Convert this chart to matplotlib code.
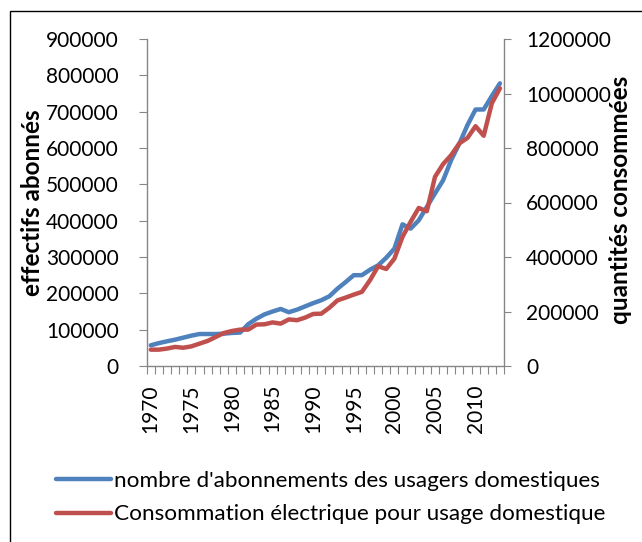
import matplotlib
matplotlib.use("Agg")
import matplotlib.pyplot as plt
from matplotlib.patches import Rectangle
from matplotlib.ticker import FuncFormatter

plt.rcParams['font.family'] = ['Lato', 'DejaVu Sans']

# Data
years = list(range(1970, 2014))
abonnements = [57000, 63000, 68000, 72500, 78000, 83500, 88000, 88000, 88000, 89000,
               91000, 92000, 115000, 130000, 142000, 150000, 157000, 148000, 155000, 164000,
               173000, 181000, 192000, 213000, 231000, 250000, 250000, 265000, 277000, 298000,
               323000, 390000, 378000, 401000, 438000, 475000, 511000, 567000, 612000, 663000,
               706000, 706000, 743000, 778000]
consommation = [60000, 60000, 64000, 70000, 67000, 72000, 82000, 92000, 106500, 121000,
                128500, 133500, 133500, 152000, 153000, 160000, 155500, 171000, 168000, 177500,
                191000, 192000, 214000, 241000, 251000, 262000, 272000, 315000, 366000, 356000,
                394000, 474000, 529000, 580000, 568000, 694000, 741000, 774000, 817000, 837000,
                880000, 845000, 964000, 1019000]
label_abo = "nombre d'abonnements des usagers domestiques"
label_conso = "Consommation électrique pour usage domestique"

blue = '#4F81BD'
red = '#C0504D'
grey = '#868686'
W, H = 642, 542

fig = plt.figure(figsize=(W / 100, H / 100), dpi=100)
ax = fig.add_axes([146.7 / W, 1 - 366 / H, (504 - 146.7) / W, (366 - 39) / H])
ax2 = ax.twinx()

x = list(range(len(years)))
l1, = ax.plot(x, abonnements, color=blue, lw=3.2, solid_capstyle='round', solid_joinstyle='round')
l2, = ax2.plot(x, consommation, color=red, lw=3.2, solid_capstyle='round', solid_joinstyle='round')

ax.set_xlim(-0.5, len(years) - 0.5)
ax.set_ylim(0, 900000)
ax2.set_ylim(0, 1200000)
ax.set_yticks(range(0, 900001, 100000))
ax2.set_yticks(range(0, 1200001, 200000))
plain = FuncFormatter(lambda v, p: '%d' % v)
ax.yaxis.set_major_formatter(plain)
ax2.yaxis.set_major_formatter(plain)

ax.set_xticks([i for i, y in enumerate(years) if y % 5 == 0])
ax.set_xticklabels([str(y) for y in years if y % 5 == 0], rotation=90)
ax.set_xticks([i - 0.5 for i in range(len(years) + 1)], minor=True)

for a in (ax, ax2):
    for s in a.spines.values():
        s.set_visible(False)
ax.spines['left'].set_visible(True)
ax.spines['bottom'].set_visible(True)
ax2.spines['right'].set_visible(True)
for s in (ax.spines['left'], ax.spines['bottom'], ax2.spines['right']):
    s.set_color(grey)
    s.set_linewidth(1.0)

ax.tick_params(axis='y', direction='out', length=6, width=0.8, color=grey,
               labelsize=15, pad=14)
ax2.tick_params(axis='y', direction='out', length=5, width=0.8, color=grey,
                labelsize=15, pad=11)
ax.tick_params(axis='x', which='major', length=0, labelsize=15, pad=13)
ax.tick_params(axis='x', which='minor', direction='out', length=5.5, width=0.8, color=grey)

fig.text(33 / W, 1 - 202.5 / H, 'effectifs abonnés', rotation=90, ha='center', va='center',
         fontsize=17.5, fontweight='bold')
fig.text(620 / W, 1 - 200 / H, 'quantités consommées', rotation=90, ha='center', va='center',
         fontsize=17.5, fontweight='bold')

fig.legend([l1, l2], [label_abo, label_conso], loc='upper left',
           bbox_to_anchor=(47 / W, 1 - 462 / H), frameon=False, fontsize=16.2,
           handlelength=2.45, handletextpad=0.15, labelspacing=0.6, borderaxespad=0)

fig.add_artist(Rectangle((10 / W, -0.01), 1.0, 1 - 11 / H + 0.01, transform=fig.transFigure,
                         fill=False, edgecolor='black', lw=1.0))

fig.savefig('out.png', dpi=100)
